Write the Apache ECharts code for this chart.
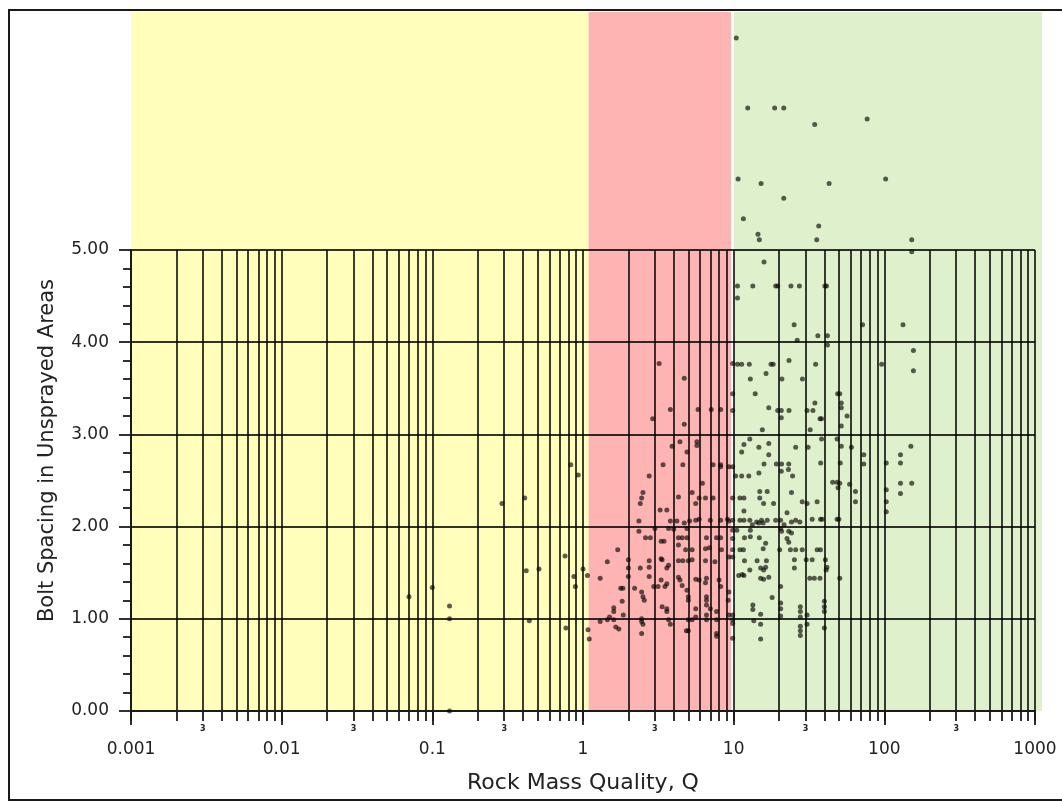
<!DOCTYPE html>
<html><head><meta charset="utf-8">
<script src="https://cdn.jsdelivr.net/npm/echarts@6/dist/echarts.min.js"></script>
<style>html,body{margin:0;padding:0;background:#fff}#c{width:1062px;height:801px}</style>
</head><body><div id="c"></div><script>
// ---- data ----
const xMajorTicks = [0.001, 0.01, 0.1, 1, 10, 100, 1000];
const xMajorLabels = ['0.001', '0.01', '0.1', '1', '10', '100', '1000'];
const xMultipliers = [1, 2, 3, 4, 5, 6, 7, 8, 9];
const xSmallLabelTicks = [0.003, 0.03, 0.3, 3, 30, 300];
const xSmallLabelText = '3';
const yTickValues = [0, 1, 2, 3, 4, 5];
const yTickLabels = ['0.00', '1.00', '2.00', '3.00', '4.00', '5.00'];
const zoneLimits = [[0.001, 1.09], [1.09, 9.6], [10.05, 1113]];
const xAxisName = 'Rock Mass Quality, Q';
const yAxisName = 'Bolt Spacing in Unsprayed Areas';

const lowQPoints = [
  [0.29,2.25],[0.41,2.31],[0.83,2.67],[0.93,2.56],[0.76,1.68],[0.42,1.52],[0.51,1.54],[1.0,1.54],
  [0.87,1.46],[0.89,1.35],[0.07,1.24],[0.1,1.34],[0.13,1.14],[0.13,1.0],[0.44,0.98],[0.77,0.9],[0.13,0.0],
  [1.07,1.47],[1.08,0.88],[1.1,0.78]
];
const midQPoints = [
  [3.2,3.77],[4.7,3.61],[3.8,3.27],[2.9,3.17],[4.7,3.11],[5.8,3.27],[7.1,3.27],[8.2,3.27],[4.4,2.92],[3.9,2.87],
  [4.9,2.81],[5.7,2.92],[5.7,2.88],[3.4,2.67],[4.6,2.67],[7.3,2.67],[8.2,2.67],[2.75,2.55],[6.2,2.47],[2.5,2.37],
  [2.45,2.31],[4.3,2.32],[5.3,2.37],[5.9,2.31],[6.5,2.31],[7.3,2.31],[2.4,2.25],[5.6,2.25],
  [3.25,2.18],[3.6,2.18],[3.8,2.06],[4.2,2.06],[2.35,2.06],[4.7,2.04],[5.1,2.06],[5.6,2.07],[5.9,2.08],[7.0,2.07],
  [8.2,2.07],[9.1,2.08],[9.3,2.06],[2.35,1.95],[3.0,1.98],[3.7,1.98],[4.0,1.97],[4.9,1.98],
  [2.6,1.88],[2.8,1.88],[3.3,1.84],[3.45,1.84],[4.3,1.88],[4.55,1.88],[4.9,1.88],[6.6,1.88],[7.7,1.88],[8.2,1.88],
  [4.3,1.80],[4.8,1.75],[5.3,1.75],[6.5,1.76],[6.9,1.77],[1.7,1.75],[1.45,1.62],[2.0,1.64],[2.75,1.63],[3.3,1.65],
  [3.35,1.64],[3.7,1.58],[4.3,1.63],[4.6,1.63],[5.0,1.63],[5.3,1.64],[6.5,1.63],[7.5,1.62],
  [2.0,1.55],[2.4,1.55],[2.75,1.56],[3.6,1.55],[1.3,1.44],[2.0,1.46],[2.75,1.46],[3.3,1.42],[3.6,1.38],[3.5,1.35],
  [4.3,1.45],[4.4,1.42],[4.55,1.36],[5.6,1.43],[5.9,1.42],[6.5,1.39],[6.6,1.44],[8.0,1.42],[8.2,1.35],
  [1.78,1.33],[1.84,1.33],[2.2,1.33],[2.45,1.29],[2.95,1.35],[3.15,1.35],[2.5,1.24],[2.55,1.20],[4.9,1.31],[5.0,1.24],
  [5.0,1.20],[1.82,1.19],[1.6,1.12],[1.6,1.08],[3.35,1.13],[3.6,1.11],[3.6,1.08],[6.6,1.15],[7.0,1.11],[6.6,1.24],[6.6,1.20],
  [1.5,1.02],[1.6,0.99],[1.85,1.04],[1.3,0.97],[1.45,0.99],[2.45,1.0],[2.45,0.97],[2.5,0.94],[3.7,0.99],[3.8,0.94],
  [5.0,0.99],[5.3,0.99],[5.6,1.11],[5.6,1.02],[6.6,1.04],[6.6,0.99],[7.7,0.99],[7.7,1.08],
  [1.65,0.91],[1.73,0.89],[4.85,0.87],[5.0,0.87],[2.45,0.84],[7.7,0.84],[7.7,0.81],
  [8.2,2.65],[9.3,2.65],[8.3,1.75],[9.3,1.67],[9.3,1.29],[9.2,1.2],[9.3,1.04],
  [9.85,3.77],[9.85,3.44],[9.85,3.26],[9.85,2.65],[9.85,2.31],[9.85,2.07],[9.85,1.96],[9.85,1.87],[9.85,1.75],
  [9.85,1.67],[9.85,1.04],[9.85,0.99],[9.85,0.95],[9.85,0.79]
];
const highQPoints = [
  [10.4,7.30],[12.4,6.54],[18.7,6.54],[21.5,6.54],[34.5,6.36],[76.9,6.42],[10.7,5.77],[15.2,5.72],[43,5.72],[102,5.77],
  [21.5,5.56],[11.6,5.34],[36.7,5.26],[14.5,5.17],[14.8,5.11],[35.6,5.11],[152,5.11],[15.9,4.87],[152,4.98],
  [10.6,4.61],[13.4,4.61],[19.0,4.61],[19.6,4.61],[24.0,4.61],[27.3,4.61],[40.3,4.61],[41.3,4.61],[10.6,4.48],
  [25.2,4.19],[26.4,4.02],[36.2,4.07],[41.9,4.07],[41.9,3.97],[71.7,4.19],[133,4.19],[156,3.91],[156,3.69],
  [10.6,3.76],[11.3,3.76],[12.7,3.76],[17.7,3.76],[18.3,3.76],[35,3.76],[96,3.76],[23.3,3.80],
  [12.9,3.60],[20.9,3.60],[28.6,3.60],[16.4,3.66],[13.9,3.44],[49,3.44],[50.6,3.44],
  [17.1,3.29],[19.6,3.26],[20.7,3.26],[23.3,3.26],[30.7,3.26],[33.6,3.26],[34.6,3.34],[51.8,3.34],[51.8,3.29],
  [20.7,3.18],[37.4,3.17],[38.3,3.17],[56.6,3.20],[15.5,3.05],[32.2,3.05],[51.8,3.09],
  [12.8,2.95],[11.7,2.89],[11.3,2.81],[14.7,2.86],[17.1,2.90],[17.1,2.78],[25.8,2.86],[31.2,2.86],[38.3,2.95],
  [48.6,2.95],[51.8,2.87],[60.5,2.86],[73.1,2.78],[128,2.78],[150,2.87],
  [15.9,2.68],[19.2,2.68],[20.8,2.68],[23.2,2.68],[37.8,2.69],[51,2.69],[73,2.68],[103,2.69],[128,2.69],
  [10.3,2.55],[11.3,2.55],[12.6,2.55],[14.7,2.58],[20.7,2.6],[24.6,2.55],[23.1,2.62],
  [45.4,2.48],[48.6,2.48],[50.6,2.47],[49.3,2.42],[58.8,2.46],[128,2.47],[152,2.47],[128,2.36],
  [64.3,2.38],[64.3,2.27],[103,2.40],[103,2.27],[103,2.16],
  [14.9,2.38],[16.7,2.38],[14.9,2.31],[15.8,2.25],[18.4,2.25],[11,2.31],[11.7,2.31],[24.2,2.37],[11.7,2.17],
  [28.5,2.27],[30.7,2.25],[35.8,2.27],[22.6,2.15],
  [11,2.07],[11.7,2.07],[12.8,2.07],[14.2,2.05],[15.3,2.07],[16.7,2.07],[19,2.07],[20.5,2.07],[21.6,2.02],[24.2,2.05],
  [25.8,2.07],[27.5,2.05],[33.2,2.08],[37.7,2.08],[38.7,2.08],[48.6,2.08],[49.9,2.08],
  [13.3,2.02],[14.7,2.04],[15.7,2.04],[10.5,1.96],[12.9,1.96],[20.5,1.98],[20.8,1.95],[23.2,1.95],[24.2,1.93],
  [11.8,1.88],[12.9,1.89],[14.8,1.88],[22.6,1.87],[23.2,1.83],[16.3,1.82],[15.7,1.76],
  [11,1.75],[11.6,1.75],[20.2,1.75],[23.8,1.75],[25.8,1.75],[28.5,1.75],[35.8,1.75],[37.7,1.75],
  [11.8,1.63],[14.3,1.63],[16.5,1.63],[25.3,1.64],[25.3,1.55],[30.3,1.64],[33.2,1.64],[40.6,1.64],[41.6,1.56],[41.1,1.53],
  [15.1,1.55],[16.3,1.56],[15.8,1.53],[12.8,1.53],[10.8,1.47],[11.4,1.48],[11.7,1.47],[15.1,1.44],[15.8,1.43],[17.1,1.45],
  [32,1.44],[34.3,1.44],[37.4,1.44],[50.6,1.44],[20.5,1.35],[18,1.23],
  [20.5,1.17],[20.5,1.11],[20.5,1.03],[40,1.19],[40,1.13],[40,1.08],[40,0.90],[13.4,1.15],[13.4,1.10],
  [27.7,1.13],[27.7,1.08],[27.7,1.02],[27.7,0.92],[27.7,0.87],[27.7,0.82],[30.7,1.04],[30.7,0.94],
  [15.1,1.05],[15.1,0.94],[13.6,0.98],[15.1,0.78]
];

// ---- build ----
const allXTicks = [];
xMajorTicks.slice(0, -1).forEach(d => xMultipliers.forEach(m => allXTicks.push(+(d * m).toPrecision(6))));
allXTicks.push(xMajorTicks[xMajorTicks.length - 1]);
const same = (a, b) => Math.abs(Math.log10(a) - Math.log10(b)) < 1e-6;

const FONT = 'DejaVu Sans';
const GRIDLINE = 'rgba(0,0,0,0.8)';
const INK = '#1a1a1a';
const chart = echarts.init(document.getElementById('c'), null, {renderer: 'canvas'});
chart.setOption({
  animation: false,
  backgroundColor: '#ffffff',
  grid: [
    {left: 131, right: 19, top: 12, bottom: 90},
    {left: 131, right: 27, top: 250, bottom: 90}
  ],
  xAxis: [
    {gridIndex: 0, type: 'log', logBase: 10, min: 0.001, max: 1130, show: false},
    {gridIndex: 1, type: 'log', logBase: 10, min: 0.001, max: 1000, position: 'bottom', z: 3,
      axisLine: {show: true, lineStyle: {color: INK, width: 2}},
      axisTick: {show: true, customValues: allXTicks, length: 10, lineStyle: {color: INK, width: 1.8}},
      axisLabel: {show: true, customValues: xMajorTicks, margin: 30, fontSize: 17, fontFamily: FONT, color: '#222',
        hideOverlap: false,
        formatter: v => { const i = xMajorTicks.findIndex(t => same(t, v)); return i >= 0 ? xMajorLabels[i] : ''; }},
      splitLine: {show: true, lineStyle: {color: GRIDLINE, width: 1.9}},
      minorTick: {show: false}, minorSplitLine: {show: false},
      name: xAxisName, nameLocation: 'middle', nameGap: 61,
      nameTextStyle: {fontSize: 22, fontFamily: FONT, color: '#222'}
    },
    {gridIndex: 1, type: 'log', logBase: 10, min: 0.001, max: 1000, position: 'bottom', offset: 0, z: 3,
      axisLine: {show: false},
      axisTick: {show: true, customValues: xMajorTicks, length: 14, lineStyle: {color: INK, width: 1.8}},
      axisLabel: {show: true, customValues: xSmallLabelTicks, margin: 14, fontSize: 8, fontWeight: 'bold',
        fontFamily: FONT, color: '#222', hideOverlap: false, formatter: () => xSmallLabelText},
      splitLine: {show: false}
    }
  ],
  yAxis: [
    {gridIndex: 0, type: 'value', min: 0, max: 7.581, show: false},
    {gridIndex: 1, type: 'value', min: 0, max: 5, interval: 1, z: 3,
      axisLine: {show: true, lineStyle: {color: INK, width: 2}},
      axisTick: {show: true, length: 12, lineStyle: {color: INK, width: 1.8}},
      minorTick: {show: true, splitNumber: 5, length: 8, lineStyle: {color: INK, width: 1.8}},
      axisLabel: {margin: 22, fontSize: 17, fontFamily: FONT, color: '#222',
        formatter: v => { const i = yTickValues.indexOf(Math.round(v)); return i >= 0 ? yTickLabels[i] : ''; }},
      splitLine: {show: true, lineStyle: {color: GRIDLINE, width: 1.9}},
      name: yAxisName, nameLocation: 'middle', nameGap: 73,
      nameTextStyle: {fontSize: 21, fontFamily: FONT, color: '#222', padding: [0, 0, 0, 60]}
    }
  ],
  series: [
    {type: 'scatter', xAxisIndex: 0, yAxisIndex: 0, data: [], z: 1, silent: true,
      markArea: {silent: true, z: -1,
        data: zoneLimits.map((z, i) => [
          {xAxis: z[0], itemStyle: {color: ['#ffffbb', '#ffb4b4', '#dff0cc'][i], opacity: 1}},
          {xAxis: z[1]}
        ])}
    },
    {type: 'scatter', xAxisIndex: 0, yAxisIndex: 0, z: 5, symbolSize: 5,
      itemStyle: {color: 'rgba(10,8,4,0.82)'},
      data: lowQPoints.concat(midQPoints, highQPoints)}
  ],
  graphic: [
    {type: 'rect', z: 100, silent: true, shape: {x: 9, y: 10, width: 1100, height: 790},
      style: {fill: 'none', stroke: '#1a1a1a', lineWidth: 2}}
  ]
});
</script></body></html>
